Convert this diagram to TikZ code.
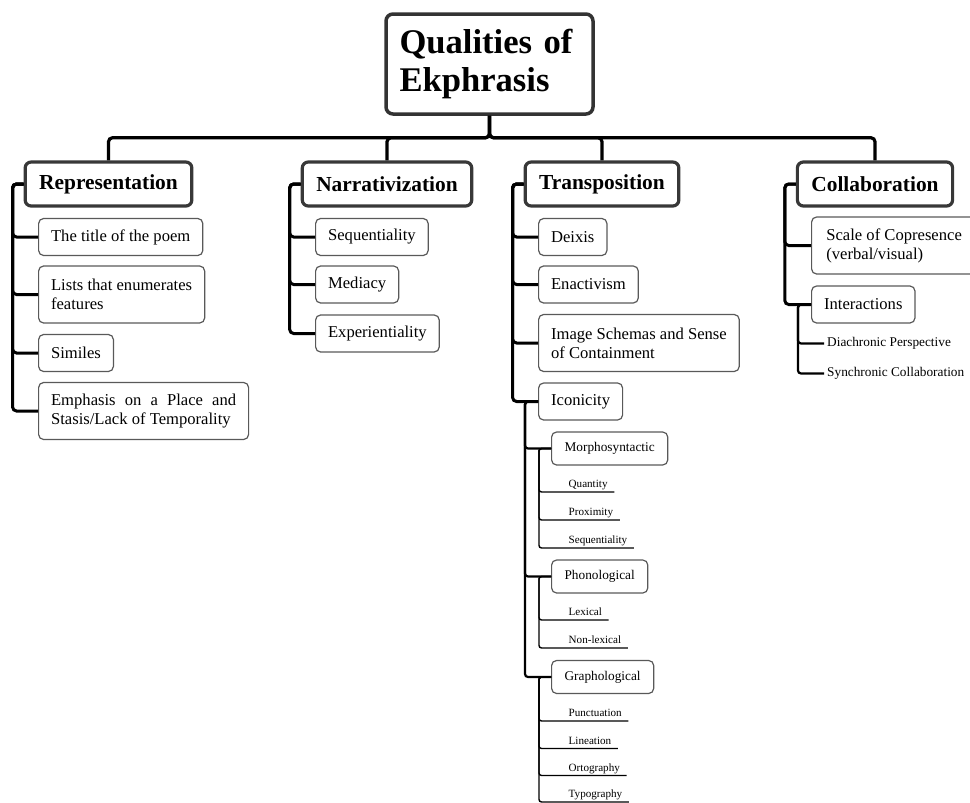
\documentclass[tikz,border=0pt]{standalone}
\usepackage{fontspec}
\setmainfont{Liberation Serif}
\usepackage{tikz}

\begin{document}
\begin{tikzpicture}[x=1pt,y=-1pt,
  top/.style={draw=black!80,line width=3.5pt,rounded corners=7pt,font=\bfseries\fontsize{34.6}{38}\selectfont,text width=180pt,align=left,inner xsep=13.5pt,minimum height=100pt},
  head/.style={draw=black!78,line width=3.2pt,rounded corners=6pt,font=\bfseries\fontsize{21.4}{24}\selectfont,inner xsep=14pt,minimum height=44pt},
  item/.style={draw=black!65,line width=1.2pt,rounded corners=5pt,font=\fontsize{16.6}{19}\selectfont,inner xsep=12.5pt,minimum height=37pt,anchor=west,align=left},
  item2/.style={item,minimum height=57pt},
  sub/.style={draw=black!65,line width=1.2pt,rounded corners=5pt,font=\fontsize{13.3}{15}\selectfont,inner xsep=13pt,minimum height=33pt,anchor=west},
  leaf/.style={font=\fontsize{11.1}{13}\selectfont,inner xsep=6.5pt,inner ysep=1.5pt,text height=8pt,text depth=2.5pt,anchor=south west},
  note/.style={font=\fontsize{13.3}{15}\selectfont,inner xsep=3pt,anchor=west},
  bus/.style={line width=3.2pt,rounded corners=4pt},
  spine/.style={line width=3pt,rounded corners=4pt},
  twig/.style={line width=2.2pt,rounded corners=3pt},
  rule/.style={line width=1.4pt,rounded corners=2.5pt}]
\useasboundingbox (0,0) rectangle (970,803);

\node[top] (root) at (489.5,64) {Qualities of\\Ekphrasis};

\node[head] (rep) at (108.5,184) {Representation};
\node[head] (narr) at (387,184) {Narrativization};
\node[head] (trans) at (602,184) {Transposition};
\node[head] (collab) at (875,184) {Collaboration};

\foreach \n in {rep,narr,trans,collab}
  \draw[bus] (root.south) -- ++(0,22) -| (\n.north);

\node[item] (title) at (38,237) {The title of the poem};
\node[item2] (lists) at (38,294.5) {Lists that enumerates\\features};
\node[item] (similes) at (38,353) {Similes};
\node[item2] (emph) at (38,411) {\makebox[185pt][s]{Emphasis on a Place and}\\Stasis/Lack of Temporality};

\node[item] (seq) at (315,237) {Sequentiality};
\node[item] (mediacy) at (315,284.5) {Mediacy};
\node[item] (exper) at (315,333.5) {Experientiality};

\node[item] (deixis) at (538,237) {Deixis};
\node[item] (enact) at (538,284.5) {Enactivism};
\node[item2] (schemas) at (538,343) {Image Schemas and Sense\\of Containment};
\node[item] (icon) at (538,401.5) {Iconicity};

\node[item2,minimum width=165pt] (scale) at (811,245.5) {Scale of Copresence\\(verbal/visual)};
\node[item] (inter) at (811,304.5) {Interactions};

\foreach \n in {title,lists,similes,emph}
  \draw[spine] (rep.west) -- ++(-11,0) |- (\n.west);
\foreach \n in {seq,mediacy,exper}
  \draw[spine] (narr.west) -- ++(-11,0) |- (\n.west);
\foreach \n in {deixis,enact,schemas,icon}
  \draw[spine] (trans.west) -- ++(-11,0) |- (\n.west);
\foreach \n in {scale,inter}
  \draw[spine] (collab.west) -- ++(-11,0) |- (\n.west);

\node[sub] (morph) at (551,448.5) {Morphosyntactic};
\node[sub] (phon) at (551,576.5) {Phonological};
\node[sub] (graph) at (551,677) {Graphological};

\foreach \n in {morph,phon,graph}
  \draw[twig] (icon.west) -- ++(-13,0) |- (\n.west);

\node[leaf] (quant) at (562,492) {Quantity};
\node[leaf] (prox) at (562,520) {Proximity};
\node[leaf] (order) at (562,548) {Sequentiality};
\node[leaf] (lex) at (562,620) {Lexical};
\node[leaf] (nonlex) at (562,648) {Non-lexical};
\node[leaf] (punct) at (562,721) {Punctuation};
\node[leaf] (lineation) at (562,748.5) {Lineation};
\node[leaf] (ortho) at (562,775.5) {Ortography};
\node[leaf] (typo) at (562,802) {Typography};

\foreach \n in {quant,prox,order}
  \draw[rule] (morph.west) -- ++(-12,0) |- (\n.south east);
\foreach \n in {lex,nonlex}
  \draw[rule] (phon.west) -- ++(-12,0) |- (\n.south east);
\foreach \n in {punct,lineation,ortho,typo}
  \draw[rule] (graph.west) -- ++(-12,0) |- (\n.south east);

\node[note] (diachr) at (824,343.5) {Diachronic Perspective};
\node[note] (synchr) at (824,373.5) {Synchronic Collaboration};

\foreach \n in {diachr,synchr}
  \draw[twig] (inter.west) -- ++(-13,0) |- (\n.west);
\end{tikzpicture}
\end{document}
